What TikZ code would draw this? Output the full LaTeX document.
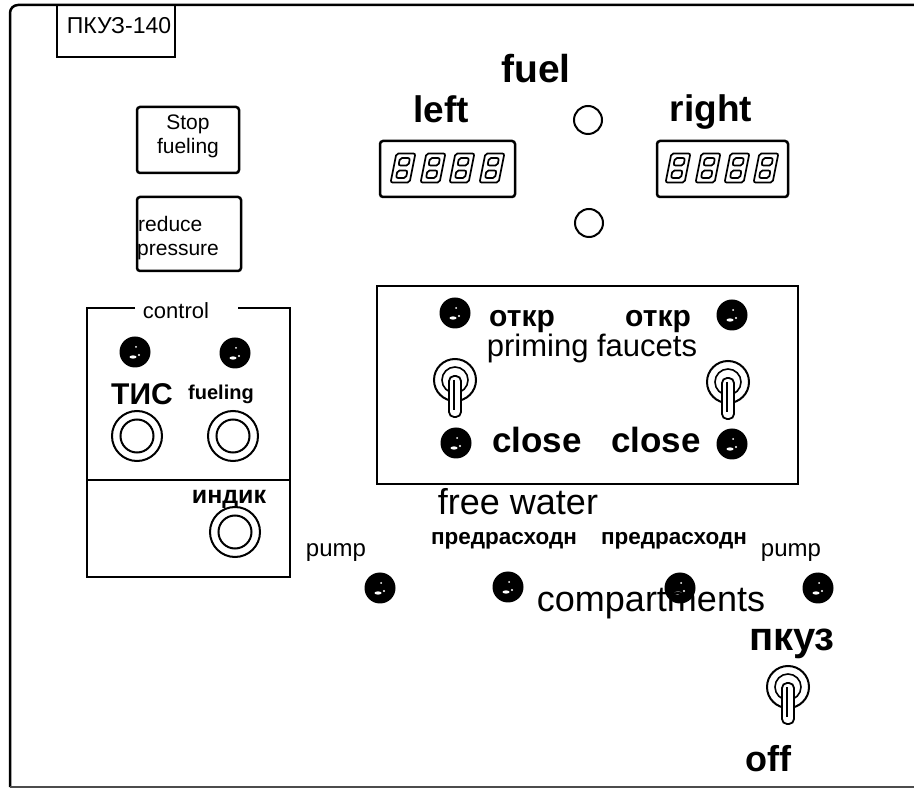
\documentclass[tikz,border=0pt]{standalone}
\usepackage{fontspec}
\setmainfont{Liberation Sans}
\usetikzlibrary{positioning}

\newcommand{\fs}[1]{\fontsize{#1}{#1}\selectfont}

% one outlined seven-segment digit, centre at (#1,#2)
\newcommand{\segdigit}[2]{%
  \begin{scope}[shift={(#1,#2)},xslant=0.2,line width=1.7pt,rounded corners=2pt]
    \draw (-9.5,-14.5) rectangle (9.5,14.5);
    \draw (-5,-10) rectangle (5,-2.5);
    \draw (-5,2.5) rectangle (5,10);
  \end{scope}}

% toggle switch: ring with a lever hanging down
\newcommand{\tumbler}[3]{%
  \node[ring] (#1) at (#2,#3) {};
  \draw[line width=1.8pt,fill=white,rounded corners=5pt]
    ([shift={(-6,-4)}]#1.center) rectangle ([shift={(6,37)}]#1.center);
  \draw[line width=1.2pt] ([shift={(-1,0)}]#1.center) -- ([shift={(-1,30)}]#1.center);}

\tikzset{
  lbl/.style={inner sep=0pt,anchor=base},
  panelbox/.style={draw,line width=2.5pt,rounded corners=3pt,inner sep=0pt},
  lamp/.style={circle,fill=black,minimum size=31pt,inner sep=0pt,
    path picture={
      \fill[white] ([shift={(-2pt,-5pt)}]path picture bounding box.center)
        ellipse (3.5pt and 1.6pt);
      \fill[white] ([shift={(4pt,-3pt)}]path picture bounding box.center)
        circle (1.1pt);
      \fill[white] ([shift={(1pt,5pt)}]path picture bounding box.center)
        circle (1pt);}},
  jack/.style={circle,draw,line width=2pt,minimum size=50pt,inner sep=0pt,
    path picture={
      \draw[line width=2pt] (path picture bounding box.center) circle (16.5pt);}},
  ring/.style={circle,draw,line width=2pt,minimum size=42pt,inner sep=0pt,
    path picture={
      \draw[line width=1.6pt] (path picture bounding box.center) circle (13pt);}},
  bulb/.style={circle,draw,line width=2pt,minimum size=28pt,inner sep=0pt}
}

\begin{document}
\begin{tikzpicture}[x=1pt,y=-1pt]
  \useasboundingbox (0,0) rectangle (914,791);
  % outer frame
  \draw[line width=2.5pt,rounded corners=8pt] (914,5) -- (10,5) -- (10,787);
  \draw[line width=1.5pt,black!70] (10,787) -- (914,787);

  % name plate and push buttons
  \node[panelbox,rounded corners=0pt,minimum width=118pt,minimum height=52pt] (NP) at (116,31) {};
  \node[lbl] (NPt) at (119,34) {\fs{23}ПКУЗ-140};
  \node[panelbox,minimum width=102pt,minimum height=66pt] (SF) at (188,140) {};
  \node[lbl] (SF1) at (188,130) {\fs{21}Stop};
  \node[lbl] (SF2) at (188,154) {\fs{21}fueling};
  \node[panelbox,minimum width=104pt,minimum height=74pt] (RP) at (189,234) {};
  \node[lbl,anchor=base west] (RP1) at (138,232) {\fs{21}reduce};
  \node[lbl,anchor=base west] (RP2) at (137,256) {\fs{21}pressure};

  % fuel gauges
  \node[lbl] (fuel) at (536,83) {\fs{39}\bfseries fuel};
  \node[lbl] (lft) at (441,123) {\fs{37}\bfseries left};
  \node[lbl] (rgt) at (711,122) {\fs{37}\bfseries right};
  \node[panelbox,minimum width=135pt,minimum height=56pt] (DL) at (447.5,169) {};
  \node[panelbox,minimum width=131pt,minimum height=56pt] (DR) at (722.5,169) {};
  \foreach \x in {403,433,462,492} \segdigit{\x}{168};
  \foreach \x in {678,708,737,766} \segdigit{\x}{168};
  \node[bulb] (B1) at (588,120) {};
  \node[bulb] (B2) at (589,223) {};

  % control block
  \draw[line width=2.5pt] (135,308) -- (87,308) -- (87,577) -- (290,577) -- (290,308) -- (238,308);
  \draw[line width=2.5pt] (87,480) -- (290,480);
  \node[lbl] (ctl) at (176,319) {\fs{22}control};
  \node[lamp] (C1) at (135,352) {};
  \node[lamp] (C2) at (235,353) {};
  \node[lbl] (tis) at (142,405) {\fs{30}\bfseries ТИС};
  \node[lbl] (fue) at (221,400) {\fs{20}\bfseries fueling};
  \node[jack] (J1) at (137,436) {};
  \node[jack] (J2) at (233,436) {};
  \node[lbl] (ind) at (229,504) {\fs{25}\bfseries индик};
  \node[jack] (J3) at (235,532) {};

  % priming faucets block
  \node[panelbox,rounded corners=0pt,minimum width=421pt,minimum height=198pt] (PF) at (587.5,385) {};
  \node[lamp] (P1) at (455,313) {};
  \node[lamp] (P2) at (732,315) {};
  \node[lamp] (P3) at (456,443) {};
  \node[lamp] (P4) at (732,444) {};
  \node[lbl] (o1) at (522,327) {\fs{30}\bfseries откр};
  \node[lbl] (o2) at (658,327) {\fs{30}\bfseries откр};
  \node[lbl] (pf) at (592,357) {\fs{31}priming faucets};
  \node[lbl] (c1) at (537,453) {\fs{35}\bfseries close};
  \node[lbl] (c2) at (656,453) {\fs{35}\bfseries close};
  \tumbler{T1}{455}{380}
  \tumbler{T2}{728}{382}

  % free water lamps
  \node[lbl] (fw) at (518,515) {\fs{36}free water};
  \node[lbl] (pu1) at (336,557) {\fs{24}pump};
  \node[lbl] (pr1) at (504,545) {\fs{22.5}\bfseries предрасходн};
  \node[lbl] (pr2) at (674,545) {\fs{22.5}\bfseries предрасходн};
  \node[lbl] (pu2) at (791,557) {\fs{24}pump};
  \node[lamp] (W1) at (380,588) {};
  \node[lamp] (W2) at (508,587) {};
  \node[lamp] (W3) at (680,588) {};
  \node[lamp] (W4) at (818,588) {};
  \node[lbl] (cmp) at (651,612) {\fs{36}compartments};

  % pkuz switch
  \node[lbl] (pk) at (792,650) {\fs{40}\bfseries пкуз};
  \tumbler{T3}{788}{687}
  \node[lbl] (off) at (768,771) {\fs{36}\bfseries off};
\end{tikzpicture}
\end{document}
